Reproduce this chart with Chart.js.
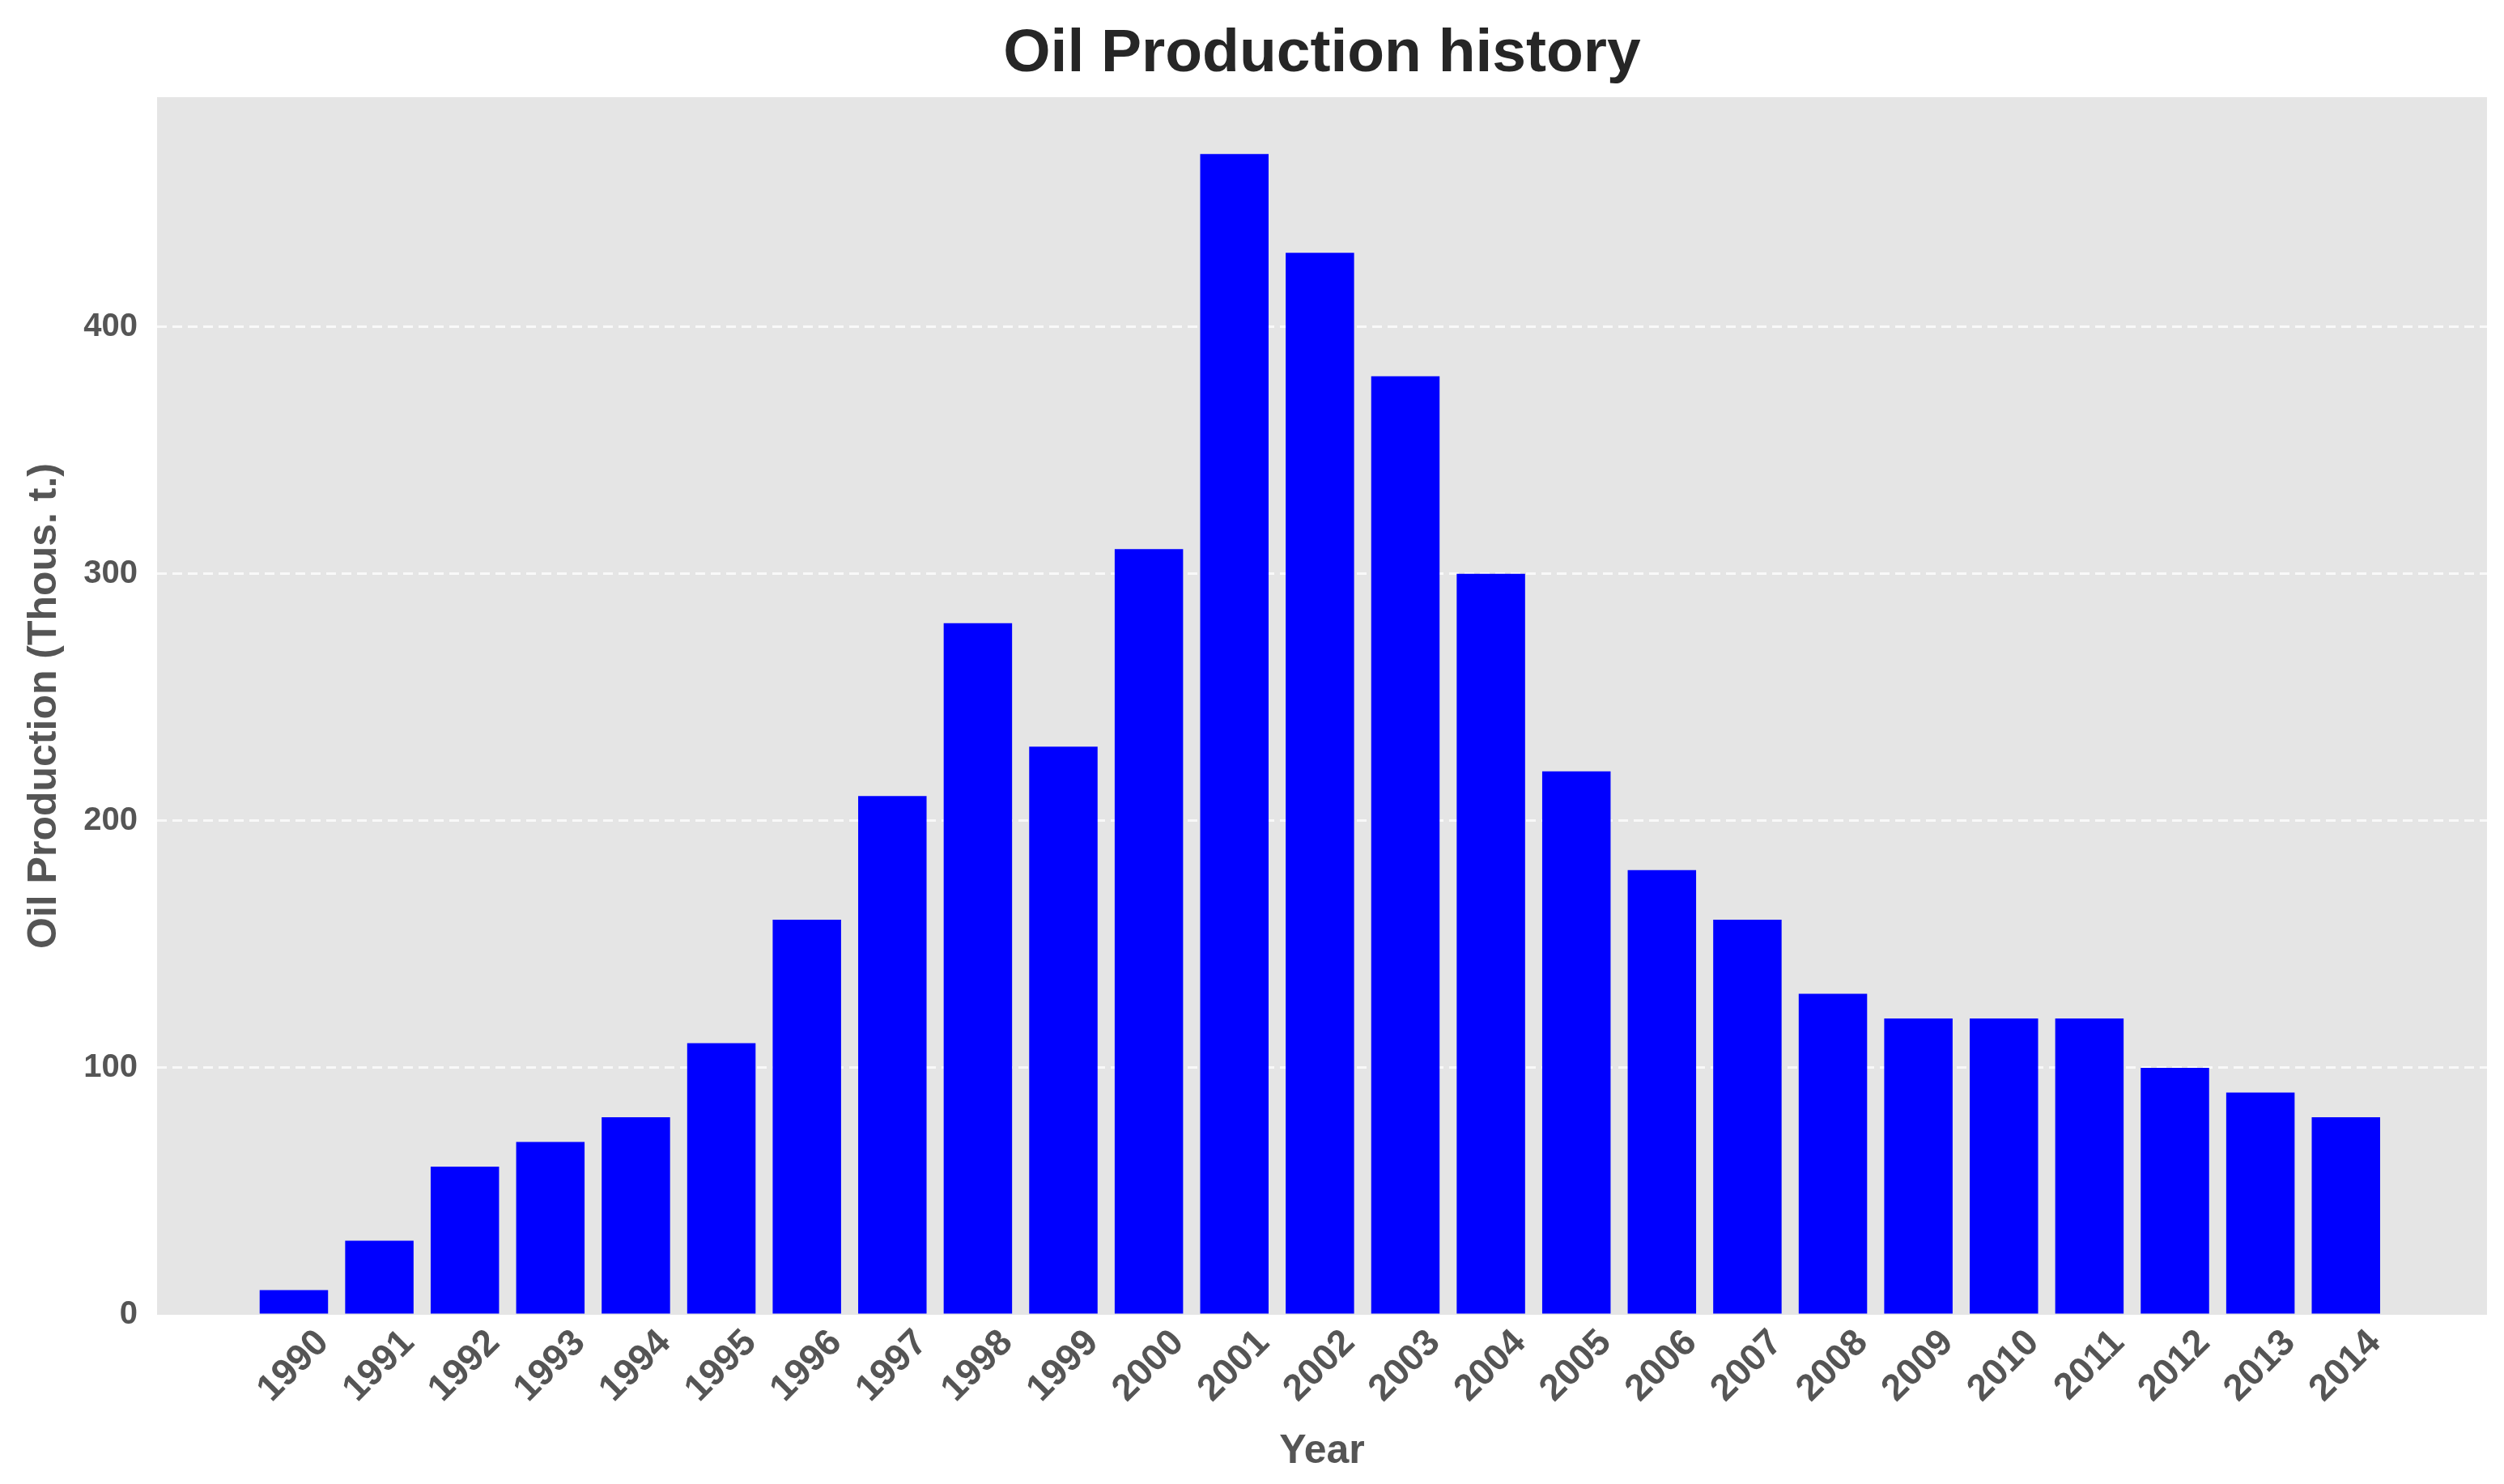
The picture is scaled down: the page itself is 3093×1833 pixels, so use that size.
<!DOCTYPE html>
<html>
<head>
<meta charset="utf-8">
<title>Oil Production history</title>
<script src="https://cdn.jsdelivr.net/npm/chart.js@4.4.1/dist/chart.umd.min.js"></script>
<style>
    html, body { margin: 0; padding: 0; background: #ffffff; }
    #wrap { width: 3093px; height: 1833px; position: relative; }
</style>
</head>
<body>
<div id="wrap"><canvas id="oil-chart"></canvas></div>
<script>
// Years (x axis categories)
const years = [1990, 1991, 1992, 1993, 1994, 1995, 1996, 1997, 1998, 1999,
    2000, 2001, 2002, 2003, 2004, 2005, 2006, 2007, 2008, 2009,
    2010, 2011, 2012, 2013, 2014];

// Oil production, thousand tonnes
const production = [10, 30, 60, 70, 80, 110, 160, 210, 280, 230,
    310, 470, 430, 380, 300, 220, 180, 160, 130, 120,
    120, 120, 100, 90, 80];

// Tick labels on the y axis
const yTicks = [0, 100, 200, 300, 400];

const fontFamily = "'Liberation Sans', Arial, Helvetica, sans-serif";
const axisGrey = "#555555";

// Grey plot background, like the ggplot style
const plotBackground = {
    id: "plotBackground",
    beforeDraw(chart) {
        const { ctx, chartArea } = chart;
        ctx.save();
        ctx.fillStyle = "#ffffff";
        ctx.fillRect(0, 0, chart.width, chart.height);
        ctx.fillStyle = "#e5e5e5";
        ctx.fillRect(chartArea.left, chartArea.top, chartArea.right - chartArea.left, chartArea.bottom - chartArea.top);
        ctx.restore();
    }
};

const ctx = document.getElementById("oil-chart").getContext("2d");

new Chart(ctx, {
    type: "bar",
    data: {
        datasets: [{
            label: "Oil Production",
            data: years.map((y, i) => ({ x: y, y: production[i] })),
            backgroundColor: "#0000ff",
            borderWidth: 0,
            categoryPercentage: 1.0,
            barPercentage: 0.8,
        }],
    },
    options: {
        responsive: true,
        maintainAspectRatio: false,
        animation: false,
        layout: { padding: { left: 0, right: 21, top: 0, bottom: 0 } },
        plugins: {
            legend: { display: false },
            tooltip: { enabled: false },
            title: {
                display: true,
                fullSize: false, // centre the title over the plot area
                text: "Oil Production history",
                color: "#262626",
                font: { family: fontFamily, size: 75, weight: "bold" },
                padding: { top: 22, bottom: 8 },
            },
        },
        scales: {
            x: {
                type: "linear",
                min: 1988.4,
                max: 2015.65,
                offset: false,
                afterBuildTicks: (axis) => { axis.ticks = years.map(v => ({ value: v })); },
                afterFit: (scale) => { scale.height = 209; },
                grid: { display: false, offset: false, drawTicks: false },
                border: { display: false },
                ticks: {
                    autoSkip: false,
                    minRotation: 45,
                    maxRotation: 45,
                    padding: 8,
                    labelOffset: 36,
                    color: axisGrey,
                    font: { family: fontFamily, size: 46, weight: "bold" },
                    callback: (value) => String(value),
                },
                title: {
                    display: true,
                    text: "Year",
                    color: axisGrey,
                    font: { family: fontFamily, size: 50, weight: "bold" },
                    padding: { top: 0, bottom: 10 },
                },
            },
            y: {
                min: 0,
                max: 493,
                afterBuildTicks: (axis) => { axis.ticks = yTicks.map(v => ({ value: v })); },
                afterFit: (scale) => { scale.width = 194; },
                grid: {
                    drawTicks: false,
                    lineWidth: 3,
                    color: (c) => (c.tick && c.tick.value === 0 ? "rgba(0,0,0,0)" : "rgba(255,255,255,0.75)"),
                },
                border: { display: false, dash: [12, 7] },
                ticks: {
                    padding: 24,
                    color: axisGrey,
                    font: { family: fontFamily, size: 40, weight: "bold" },
                },
                title: {
                    display: true,
                    text: "Oil Production (Thous. t.)",
                    color: axisGrey,
                    font: { family: fontFamily, size: 50, weight: "bold" },
                    padding: { top: 25, bottom: 0 },
                },
            },
        },
    },
    plugins: [plotBackground],
});
</script>
</body>
</html>
